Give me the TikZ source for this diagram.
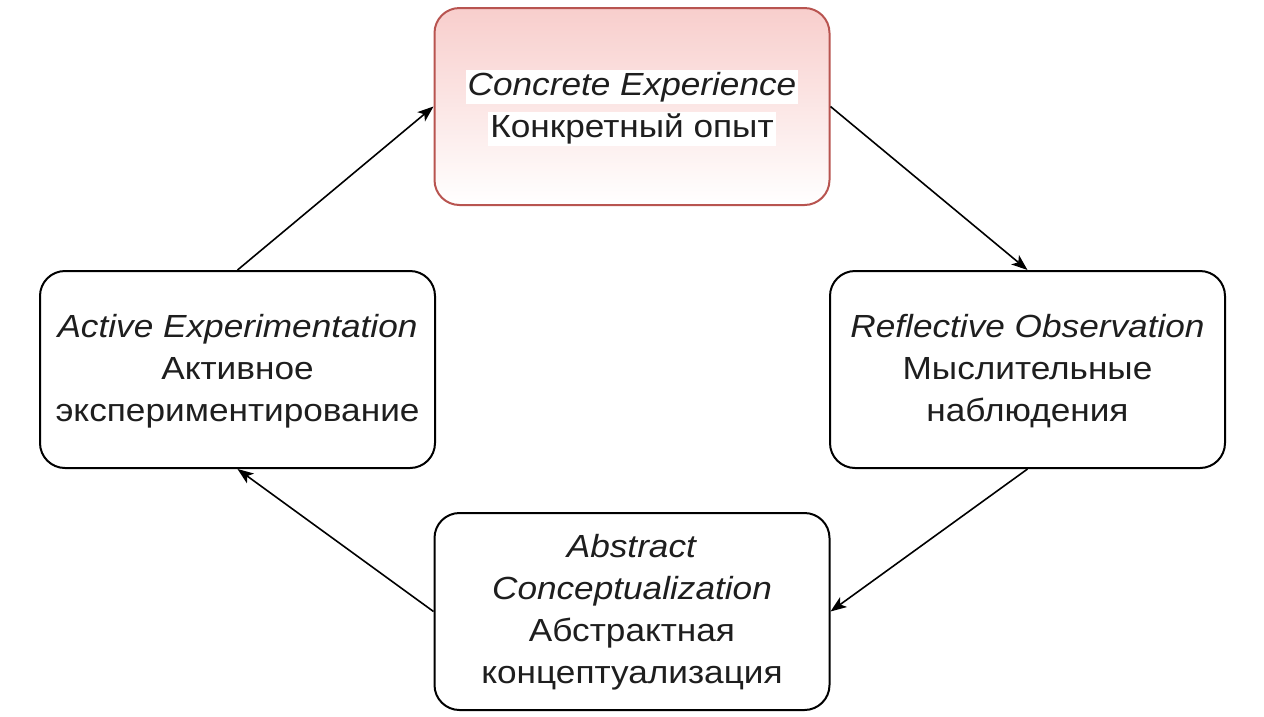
\documentclass[tikz,border=0pt]{standalone}
\usepackage{fontspec}
\setmainfont{Liberation Sans}[FakeStretch=1.1]
\usetikzlibrary{arrows.meta}
\definecolor{redline}{HTML}{B85450}
\definecolor{redfill}{HTML}{F8CECC}
\definecolor{txt}{HTML}{1E1E1E}
\begin{document}
\begin{tikzpicture}[x=1pt,y=-1pt,
  box/.style={draw=black, line width=2pt, rounded corners=25pt,
    minimum width=395pt, minimum height=197pt, inner sep=0pt, fill=white},
  redbox/.style={box, draw=redline, top color=redfill, bottom color=white},
  lbl/.style={font=\fontsize{32}{42}\selectfont, align=center, text=txt, inner sep=2pt},
  arr/.style={line width=1.6pt, -{Stealth[length=16pt,width=12pt,inset=4pt]}}]
\useasboundingbox (0,0) rectangle (1264,716);
\node[redbox] (T) at (632,106.5) {};
\node[lbl, fill=white] (T1) at (632,87) {\itshape Concrete Experience};
\node[lbl, fill=white] (T2) at (632,129) {Конкретный опыт};
\node[box] (L) at (237.5,369.5) {};
\node[lbl, yshift=-2pt] (Lt) at (L.center) {\textit{Active Experimentation}\\Активное\\экспериментирование};
\node[box] (R) at (1027.5,369.5) {};
\node[lbl, yshift=-2pt] (Rt) at (R.center) {\textit{Reflective Observation}\\Мыслительные\\наблюдения};
\node[box] (B) at (632,611.5) {};
\node[lbl, yshift=-1pt] (Bt) at (B.center) {\textit{Abstract}\\\textit{Conceptualization}\\Абстрактная\\концептуализация};
\draw[arr] (L.north) -- (T.west);
\draw[arr] (T.east) -- (R.north);
\draw[arr] (R.south) -- (B.east);
\draw[arr] (B.west) -- (L.south);
\end{tikzpicture}
\end{document}
